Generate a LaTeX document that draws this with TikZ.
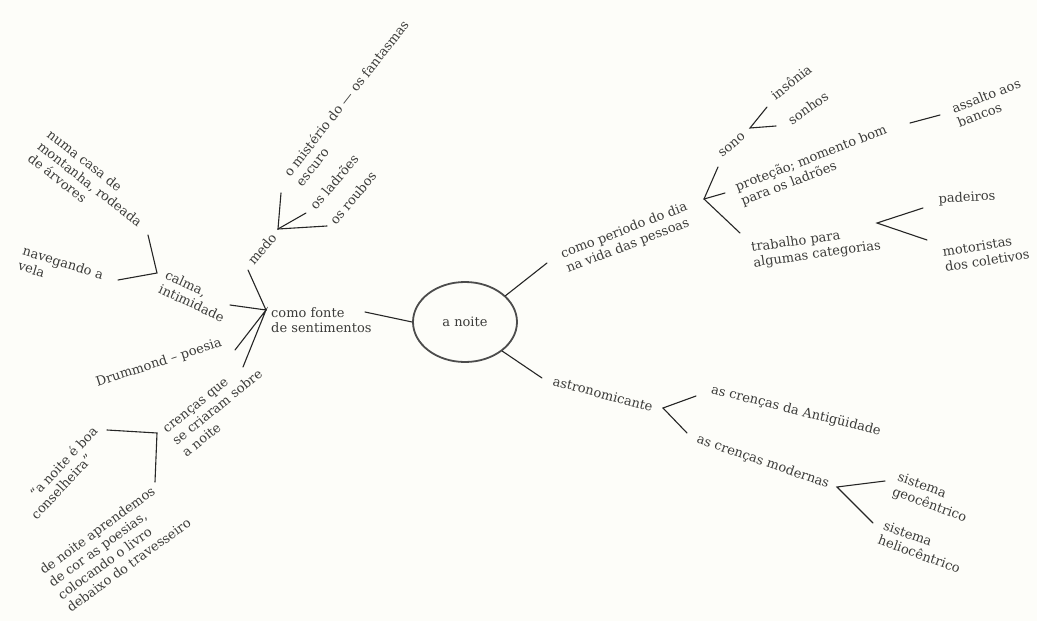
\documentclass[tikz,border=0pt]{standalone}
\usepackage{fontspec}
\setmainfont{DejaVu Serif}
\usetikzlibrary{shapes.geometric}
\definecolor{papel}{RGB}{253,253,249}
\definecolor{tinta}{RGB}{60,60,58}

\begin{document}
\begin{tikzpicture}[x=1pt,y=-1pt,
	txt/.style={inner sep=0pt,align=left,text=tinta,font=\fontsize{13}{15.5}\selectfont},
	ramo/.style={line width=1.1pt,draw=black!85,line cap=round}]
				\fill[papel] (0,0) rectangle (1037,621);
				
				\node[draw=black!70,line width=1.8pt,ellipse,inner sep=0pt,minimum width=104,minimum height=80,txt] (noite) at (465,322) {a noite};
				
				\node[txt,anchor=west] (fonte) at (271,320) {como fonte\\de sentimentos};
				\node[txt,rotate=21] (periodo) at (627,238) {como periodo do dia\\na vida das pessoas};
				\node[txt,rotate=-15] (astro) at (603,394) {astronomicante};
				\coordinate (fonte-e) at (365,312);
				\coordinate (periodo-e) at (547,263);
				\coordinate (astro-e) at (542,378);
				\draw[ramo] (noite.west) -- (fonte-e);
				\draw[ramo] (noite.33) -- (periodo-e);
				\draw[ramo] (noite.-38) -- (astro-e);
				
				\node[txt,rotate=50] (medo) at (262,249) {medo};
				\node[txt,rotate=-25] (calma) at (195,296) {calma,\\intimidade};
				\node[txt,rotate=18] (drummond) at (159,363) {Drummond -- poesia};
				\node[txt,rotate=39] (crencas) at (218,408) {crenças que\\se criaram sobre\\a noite};
				\coordinate (fonte-v) at (266,310);
				\coordinate (medo-e) at (248,270);
				\coordinate (calma-e) at (230,305);
				\coordinate (drummond-e) at (235,350);
				\coordinate (crencas-e) at (243,367);
				\draw[ramo] (medo-e) -- (fonte-v) -- (calma-e);
				\draw[ramo] (drummond-e) -- (fonte-v) -- (crencas-e);
				
				\node[txt,rotate=52] (misterio) at (352,103) {o mistério do --- os fantasmas\\escuro};
				\node[txt,rotate=50] (ladroes) at (334,182) {os ladrões};
				\node[txt,rotate=50] (roubos) at (353,198) {os roubos};
				\coordinate (medo-v) at (278,229);
				\coordinate (misterio-e) at (281,193);
				\coordinate (ladroes-e) at (306,213);
				\coordinate (roubos-e) at (327,226);
				\draw[ramo] (misterio-e) -- (medo-v) -- (ladroes-e);
				\draw[ramo] (medo-v) -- (roubos-e);
				
				\node[txt,rotate=-38] (casa) at (90,184) {numa casa de\\montanha, rodeada\\de árvores};
				\node[txt,rotate=-17] (vela) at (61,270) {navegando a\\vela};
				\coordinate (calma-v) at (157,273);
				\coordinate (casa-e) at (148,235);
				\coordinate (vela-e) at (118,280);
				\draw[ramo] (casa-e) -- (calma-v) -- (vela-e);
				
				\node[txt,rotate=47] (conselheira) at (69,467) {``a noite é boa\\\hspace*{-15pt}conselheira''};
				\node[txt,rotate=36] (aprendemos) at (115,546) {de noite aprendemos\\de cor as poesias,\\colocando o livro\\debaixo do travesseiro};
				\coordinate (crencas-v) at (157,433);
				\coordinate (conselheira-e) at (107,430);
				\coordinate (aprendemos-e) at (155,482);
				\draw[ramo] (conselheira-e) -- (crencas-v) -- (aprendemos-e);
				
				\node[txt,rotate=40] (sono) at (732,145) {sono};
				\node[txt,rotate=21] (protecao) at (814,166) {proteção; momento bom\\para os ladrões};
				\node[txt,rotate=8] (trabalho) at (816,247) {trabalho para\\algumas categorias};
				\coordinate (periodo-v) at (704,199);
				\coordinate (sono-e) at (718,167);
				\coordinate (protecao-e) at (725,193);
				\coordinate (trabalho-e) at (740,233);
				\draw[ramo] (sono-e) -- (periodo-v) -- (trabalho-e);
				\draw[ramo] (periodo-v) -- (protecao-e);
				
				\node[txt,rotate=38] (insonia) at (791,82) {insônia};
				\node[txt,rotate=35] (sonhos) at (808,108) {sonhos};
				\coordinate (sono-v) at (750,128);
				\coordinate (insonia-e) at (767,107);
				\coordinate (sonhos-e) at (776,126);
				\draw[ramo] (insonia-e) -- (sono-v) -- (sonhos-e);
				
				\node[txt,rotate=21] (assalto) at (989,103) {assalto aos\\bancos};
				\coordinate (protecao-s) at (910,123);
				\coordinate (assalto-e) at (940,115);
				\draw[ramo] (protecao-s) -- (assalto-e);
				
				\node[txt,rotate=3] (padeiros) at (967,198) {padeiros};
				\node[txt,rotate=9] (motoristas) at (986,253) {motoristas\\dos coletivos};
				\coordinate (trabalho-v) at (877,223);
				\coordinate (padeiros-e) at (923,208);
				\coordinate (motoristas-e) at (927,240);
				\draw[ramo] (padeiros-e) -- (trabalho-v) -- (motoristas-e);
				
				\node[txt,rotate=-14] (antiga) at (796,411) {as crenças da Antigüidade};
				\node[txt,rotate=-19] (modernas) at (763,462) {as crenças modernas};
				\coordinate (astro-v) at (663,408);
				\coordinate (antiga-e) at (696,396);
				\coordinate (modernas-e) at (687,433);
				\draw[ramo] (antiga-e) -- (astro-v) -- (modernas-e);
				
				\node[txt,rotate=-20] (geo) at (932,498) {sistema\\geocêntrico};
				\node[txt,rotate=-20] (helio) at (922,547) {sistema\\heliocêntrico};
				\coordinate (modernas-v) at (837,487);
				\coordinate (geo-e) at (885,481);
				\coordinate (helio-e) at (873,523);
				\draw[ramo] (geo-e) -- (modernas-v) -- (helio-e);
			\end{tikzpicture}
\end{document}
